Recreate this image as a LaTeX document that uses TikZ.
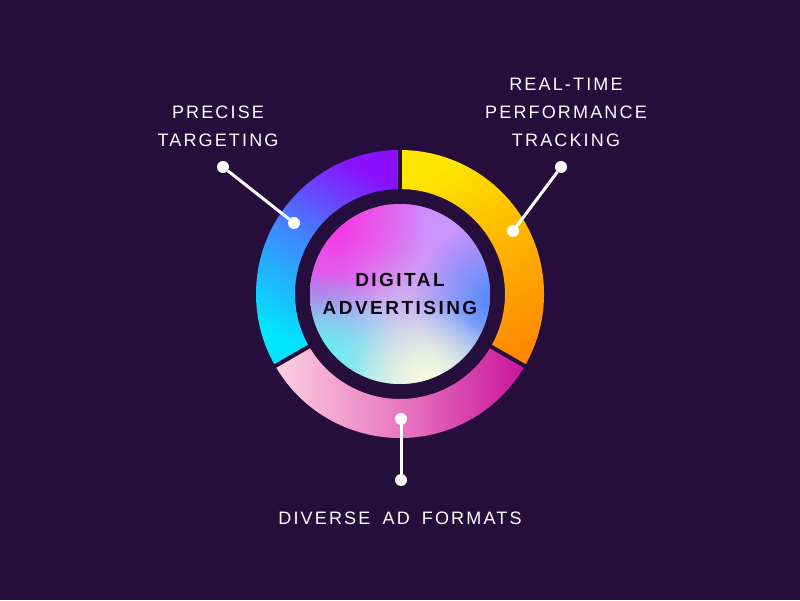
\documentclass[tikz,border=0pt]{standalone}
\usepackage{fontspec}
\usetikzlibrary{fadings}

\newfontfamily\labelfont{Liberation Sans}[LetterSpace=12, WordSpace=1.7]
\newfontfamily\hubfont{Liberation Sans}[LetterSpace=13]

\definecolor{bgpurple}{HTML}{250D3C}
\definecolor{segcyan}{HTML}{00E6FF}
\definecolor{segblue}{HTML}{3D8BFF}
\definecolor{segpurple}{HTML}{8A10FF}
\definecolor{segyellow}{HTML}{FFE600}
\definecolor{segamber}{HTML}{FFB300}
\definecolor{segorange}{HTML}{FF8A00}
\definecolor{segpink}{HTML}{FCD0E0}
\definecolor{segrose}{HTML}{E878C0}
\definecolor{segmagenta}{HTML}{C8149A}
\definecolor{hubtop}{HTML}{E070F0}
\definecolor{hubbottom}{HTML}{B8E8F0}
\definecolor{hubmagenta}{HTML}{F636E6}
\definecolor{hublavender}{HTML}{C898FF}
\definecolor{hubblue}{HTML}{4A88FF}
\definecolor{hubcyan}{HTML}{5AF2F0}
\definecolor{hubcream}{HTML}{FBFADC}
\definecolor{hubviolet}{HTML}{C868EE}
\definecolor{hubtext}{HTML}{0E0610}

\pgfdeclarehorizontalshading{leftseg}{100bp}{color(0bp)=(segcyan); color(25bp)=(segcyan);
    color(50bp)=(segblue); color(75bp)=(segpurple); color(100bp)=(segpurple)}
\pgfdeclarehorizontalshading{rightseg}{100bp}{color(0bp)=(segyellow); color(25bp)=(segyellow);
    color(50bp)=(segamber); color(75bp)=(segorange); color(100bp)=(segorange)}
\pgfdeclarehorizontalshading{bottomseg}{100bp}{color(0bp)=(segpink); color(25bp)=(segpink);
    color(50bp)=(segrose); color(75bp)=(segmagenta); color(100bp)=(segmagenta)}

\tikzfading[name=softblob, inner color=transparent!0, outer color=transparent!100]

\begin{document}
\begin{tikzpicture}[x=1pt, y=1pt]
    \fill[bgpurple] (0,0) rectangle (800,600);
    \useasboundingbox (0,0) rectangle (800,600);
    \coordinate (c) at (400,306);

    \begin{scope}
        \shade[shading=leftseg, shading angle=60]
            ([shift={(90:144)}]c) arc[start angle=90, end angle=210, radius=144]
            -- ([shift={(210:105)}]c) arc[start angle=210, end angle=90, radius=105] -- cycle;
        \shade[shading=rightseg, shading angle=-60]
            ([shift={(-30:144)}]c) arc[start angle=-30, end angle=90, radius=144]
            -- ([shift={(90:105)}]c) arc[start angle=90, end angle=-30, radius=105] -- cycle;
        \shade[shading=bottomseg]
            ([shift={(210:144)}]c) arc[start angle=210, end angle=330, radius=144]
            -- ([shift={(330:105)}]c) arc[start angle=330, end angle=210, radius=105] -- cycle;
        \foreach \a in {90, 210, 330}
            \draw[bgpurple, line width=4] ([shift={(\a:100)}]c) -- ([shift={(\a:150)}]c);
    \end{scope}

    \begin{scope}
        \clip (c) circle (90);
        \shade[top color=hubtop, bottom color=hubbottom] (c) circle (90);
        \fill[hubviolet, path fading=softblob]   (318,305) circle (60);
        \fill[hublavender, path fading=softblob] (445,378) circle (80);
        \fill[hubmagenta, path fading=softblob]  (335,372) circle (90);
        \fill[hubblue, path fading=softblob]     (495,300) circle (80);
        \fill[hubcyan, path fading=softblob]     (318,245) circle (85);
        \fill[hubcream, path fading=softblob]    (425,222) circle (75);
    \end{scope}

    \node[font=\hubfont\bfseries\fontsize{19}{28}\selectfont, text=hubtext, align=center]
        (hub) at (c) {DIGITAL\\ADVERTISING};

    \begin{scope}[every node/.style={circle, fill=white, minimum size=12, inner sep=0}]
        \node (tgtin)  at (294,377) {};
        \node (tgtout) at (223,433) {};
        \node (rtin)   at (513,369) {};
        \node (rtout)  at (561,433) {};
        \node (fmtin)  at (401,181) {};
        \node (fmtout) at (401,120) {};
    \end{scope}

    \begin{scope}[white, line width=3]
        \draw (tgtin) -- (tgtout);
        \draw (rtin) -- (rtout);
        \draw (fmtin) -- (fmtout);
    \end{scope}

    \begin{scope}[every node/.style={font=\labelfont\fontsize{18}{28}\selectfont, text=white, align=center}]
        \node (tgtlabel) at (218,474) {PRECISE\\TARGETING};
        \node (rtlabel)  at (566,488) {REAL-TIME\\PERFORMANCE\\TRACKING};
        \node (fmtlabel) at (400,82)  {DIVERSE AD FORMATS};
    \end{scope}
\end{tikzpicture}
\end{document}
